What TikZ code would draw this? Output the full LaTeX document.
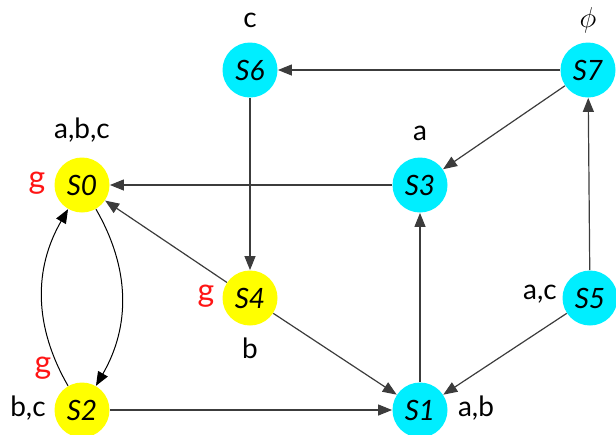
\documentclass[tikz,border=0pt]{standalone}
\usepackage{fontspec}
\setmainfont{Lato}
\usepackage{tikz}
\usetikzlibrary{arrows.meta, positioning}
\definecolor{stateCyan}{RGB}{0, 238, 255}
\definecolor{stateYellow}{RGB}{255, 255, 0}
\definecolor{edgeGray}{RGB}{60, 60, 60}
\definecolor{goalRed}{RGB}{255, 20, 20}

\begin{document}
\begin{tikzpicture}[
    x=0.5pt, y=-0.5pt,
    every node/.style={font=\fontsize{14}{16}\selectfont},
    state/.style={circle, minimum size=27.5pt, inner sep=0pt, font=\fontsize{14}{16}\selectfont\itshape},
    cstate/.style={state, fill=stateCyan},
    ystate/.style={state, fill=stateYellow},
    arrow/.style={-{Triangle[length=7pt, width=5.5pt]}, edgeGray, line width=0.6pt},
    carrow/.style={-{Triangle[length=7pt, width=5.5pt]}, black, line width=0.5pt},
    prop/.style={inner sep=1pt},
    goal/.style={inner sep=1pt, text=goalRed, font=\fontsize{16}{18}\selectfont}
]
\useasboundingbox (0,0) rectangle (616,434);

% States
\node[cstate] (s6) at (250, 70) {S6};
\node[cstate] (s7) at (588, 70) {S7};
\node[ystate] (s0) at (82, 185) {S0};
\node[cstate] (s3) at (420, 185) {S3};
\node[ystate] (s4) at (250, 298) {S4};
\node[cstate] (s5) at (590, 298) {S5};
\node[ystate] (s2) at (82, 410) {S2};
\node[cstate] (s1) at (420, 410) {S1};

% Labels
\node[prop] (l6) at (250, 20) {c};
\node[prop] (l7) at (588, 20) {$\phi$};
\node[prop] (l0) at (82, 130) {a,b,c};
\node[goal] (g0) at (37, 183) {g};
\node[prop] (l3) at (420, 133) {a};
\node[goal] (g4) at (206, 296) {g};
\node[prop] (l4) at (250, 348) {b};
\node[prop] (l5) at (540, 294) {a,c};
\node[goal] (g2) at (43, 368) {g};
\node[prop] (l2) at (28, 408) {b,c};
\node[prop] (l1) at (476, 408) {a,b};

% Transitions
\draw[arrow] (s7) -- (s6);
\draw[arrow] (s7) -- (s3);
\draw[arrow] (s6) -- (s4);
\draw[arrow] (s3) -- (s0);
\draw[arrow] (s4) -- (s0);
\draw[arrow] (s4) -- (s1);
\draw[arrow] (s2) -- (s1);
\draw[arrow] (s1) -- (s3);
\draw[arrow] (s5) -- (s7);
\draw[arrow] (s5) -- (s1);
\draw[carrow] (s0) to[bend left=30] (s2);
\draw[carrow] (s2) to[bend left=30] (s0);

\end{tikzpicture}
\end{document}
